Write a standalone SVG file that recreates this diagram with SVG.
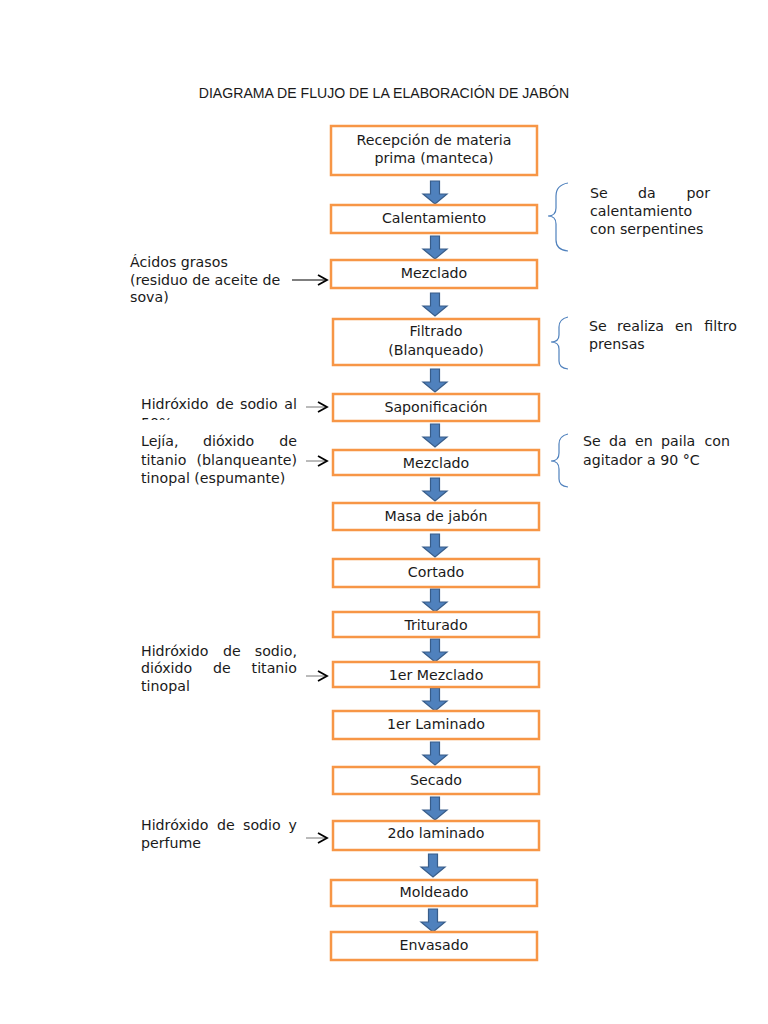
<svg xmlns="http://www.w3.org/2000/svg" width="768" height="1024" viewBox="0 0 768 1024">
<style>
.box{fill:#fff;stroke:#F79646;stroke-width:2.5}
.t{font-family:"DejaVu Sans",Verdana,sans-serif;font-size:14.2px;fill:#1a1a1a}
.c{text-anchor:middle}
.e{text-anchor:end}
.title{font-family:"Liberation Sans",Arial,sans-serif;font-size:14.1px;fill:#1a1a1a;text-anchor:middle}
.br{fill:none;stroke:#4F81BD;stroke-width:1.2}
.ln{fill:none;stroke:#000;stroke-width:1.2}
.ln2{fill:none;stroke:#777;stroke-width:1}
.chev{fill:none;stroke:#000;stroke-width:1.8}
</style>
<defs>
<path id="ba" d="M-4.5,0 H4.5 V13 H12 L0,23 L-12,13 H-4.5 Z" fill="#4F81BD" stroke="#385D8A" stroke-width="1.2"/>
<clipPath id="cp2"><rect x="130" y="390" width="180" height="30"/></clipPath>
</defs>
<rect width="768" height="1024" fill="#fff"/>
<text class="title" x="384" y="98">DIAGRAMA DE FLUJO DE LA ELABORACIÓN DE JABÓN</text>

<g id="connectors">
<use href="#ba" x="435" y="181"/>
<use href="#ba" x="435" y="236"/>
<use href="#ba" x="435" y="293"/>
<use href="#ba" x="435" y="369"/>
<use href="#ba" x="435" y="424"/>
<use href="#ba" x="435" y="478"/>
<use href="#ba" x="435" y="534"/>
<use href="#ba" x="435" y="589"/>
<use href="#ba" x="435" y="639"/>
<use href="#ba" x="435" y="688"/>
<use href="#ba" x="435" y="742"/>
<use href="#ba" x="435" y="797"/>
<use href="#ba" x="433" y="854"/>
<use href="#ba" x="433" y="909"/>
<path class="ln" d="M292,280 H327"/>
<path class="chev" d="M318,275 L327,280 L318,285"/>
<path class="ln2" d="M306,407 H326"/>
<path class="chev" d="M318,402 L327,407 L318,412"/>
<path class="ln2" d="M306,461 H326"/>
<path class="chev" d="M318,456 L327,461 L318,466"/>
<path class="ln2" d="M306,676 H326"/>
<path class="chev" d="M318,671 L327,676 L318,681"/>
<path class="ln2" d="M306,838 H326"/>
<path class="chev" d="M318,833 L327,838 L318,843"/>
<path class="br" d="M568,183 Q556,185 556,196 V208 Q556,216 548,216 Q556,216 556,224 V240 Q556,250 568,251"/>
<path class="br" d="M568,317 Q559,319 559,327 V335 Q559,342 551,342 Q559,342 559,349 V361 Q559,368 568,369"/>
<path class="br" d="M568,434 Q559,436 559,444 V453 Q559,461 551,461 Q559,461 559,469 V479 Q559,486 568,487"/>
</g>

<g id="n1"><rect class="box" x="331" y="126" width="206" height="49"/>
<text class="t c" x="434" y="145">Recepción de materia</text>
<text class="t c" x="434" y="163">prima (manteca)</text></g>
<g id="n2"><rect class="box" x="331" y="205" width="206" height="28"/>
<text class="t c" x="434" y="223">Calentamiento</text></g>
<g id="n3"><rect class="box" x="331" y="260" width="206" height="28"/>
<text class="t c" x="434" y="278">Mezclado</text></g>
<g id="n4"><rect class="box" x="333" y="319" width="206" height="46"/>
<text class="t c" x="436" y="336">Filtrado</text>
<text class="t c" x="436" y="355">(Blanqueado)</text></g>
<g id="n5"><rect class="box" x="333" y="394" width="206" height="27"/>
<text class="t c" x="436" y="412">Saponificación</text></g>
<g id="n6"><rect class="box" x="333" y="450" width="206" height="25"/>
<text class="t c" x="436" y="468">Mezclado</text></g>
<g id="n7"><rect class="box" x="333" y="503" width="206" height="27"/>
<text class="t c" x="436" y="521">Masa de jabón</text></g>
<g id="n8"><rect class="box" x="333" y="559" width="206" height="28"/>
<text class="t c" x="436" y="577">Cortado</text></g>
<g id="n9"><rect class="box" x="333" y="612" width="206" height="25"/>
<text class="t c" x="436" y="630">Triturado</text></g>
<g id="n10"><rect class="box" x="333" y="662" width="206" height="25"/>
<text class="t c" x="436" y="680">1er Mezclado</text></g>
<g id="n11"><rect class="box" x="333" y="711" width="206" height="28"/>
<text class="t c" x="436" y="729">1er Laminado</text></g>
<g id="n12"><rect class="box" x="333" y="767" width="206" height="27"/>
<text class="t c" x="436" y="785">Secado</text></g>
<g id="n13"><rect class="box" x="333" y="821" width="206" height="29"/>
<text class="t c" x="436" y="838">2do laminado</text></g>
<g id="n14"><rect class="box" x="331" y="880" width="206" height="26"/>
<text class="t c" x="434" y="897">Moldeado</text></g>
<g id="n15"><rect class="box" x="331" y="932" width="206" height="28"/>
<text class="t c" x="434" y="950">Envasado</text></g>

<g id="in1">
<text class="t" x="130" y="267">Ácidos grasos</text>
<text class="t" x="130" y="285">(residuo de aceite de</text>
<text class="t" x="130" y="302">sova)</text>
</g>
<g id="in2">
<g clip-path="url(#cp2)">
<text class="t" x="141" y="409">Hidróxido</text><text class="t" x="216" y="409">de</text><text class="t" x="240" y="409">sodio</text><text class="t e" x="297" y="409">al</text>
<text class="t" x="141" y="428">50%</text>
</g>
</g>
<g id="in3">
<text class="t" x="141" y="446">Lejía,</text><text class="t" x="203" y="446">dióxido</text><text class="t e" x="297" y="446">de</text>
<text class="t" x="141" y="465">titanio</text><text class="t e" x="297" y="465">(blanqueante)</text>
<text class="t" x="141" y="483">tinopal (espumante)</text>
</g>
<g id="in4">
<text class="t" x="141" y="656">Hidróxido</text><text class="t" x="223" y="656">de</text><text class="t e" x="297" y="656">sodio,</text>
<text class="t" x="141" y="673">dióxido</text><text class="t" x="213" y="673">de</text><text class="t e" x="297" y="673">titanio</text>
<text class="t" x="141" y="691">tinopal</text>
</g>
<g id="in5">
<text class="t" x="141" y="830">Hidróxido</text><text class="t" x="217" y="830">de</text><text class="t" x="243" y="830">sodio</text><text class="t e" x="297" y="830">y</text>
<text class="t" x="141" y="848">perfume</text>
</g>

<g id="note1">
<text class="t" x="590" y="198">Se</text><text class="t" x="638" y="198">da</text><text class="t e" x="710" y="198">por</text>
<text class="t" x="590" y="216">calentamiento</text>
<text class="t" x="590" y="234">con serpentines</text>
</g>
<g id="note2">
<text class="t" x="589" y="331">Se</text><text class="t" x="617" y="331">realiza</text><text class="t" x="675" y="331">en</text><text class="t e" x="737" y="331">filtro</text>
<text class="t" x="589" y="349">prensas</text>
</g>
<g id="note3">
<text class="t" x="583" y="446">Se</text><text class="t" x="609" y="446">da</text><text class="t" x="635" y="446">en</text><text class="t" x="661" y="446">paila</text><text class="t e" x="730" y="446">con</text>
<text class="t" x="583" y="465">agitador a 90 °C</text>
</g>
</svg>
